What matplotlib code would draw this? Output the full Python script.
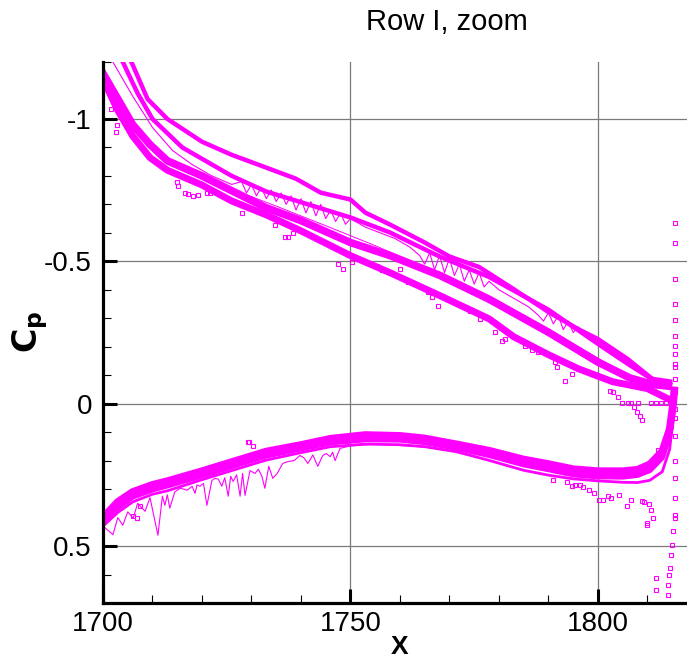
import matplotlib
matplotlib.use("Agg")
import matplotlib.pyplot as plt
from matplotlib.ticker import MultipleLocator, FixedLocator

plt.rcParams['font.family'] = ['Liberation Sans', 'DejaVu Sans']
plt.rcParams['axes.unicode_minus'] = False

MAG = '#ff00ff'

# ---------------- upper surface (suction side) ----------------
upA_x = [1704, 1706, 1709, 1713, 1720, 1726, 1733, 1739, 1744, 1750, 1753, 1758, 1765, 1770,
         1776, 1783, 1790, 1796, 1800, 1806, 1811, 1815]
upA_y = [-1.26, -1.19, -1.07, -1.00, -0.92, -0.874, -0.829, -0.79, -0.741, -0.717, -0.671, -0.629,
         -0.566, -0.517, -0.48, -0.402, -0.322, -0.262, -0.227, -0.157, -0.087, -0.077]

upB_x = [1701, 1704, 1707, 1710, 1716, 1726, 1733, 1739, 1750, 1758, 1768, 1778, 1790, 1800,
         1806, 1811, 1815]
upB_y = [-1.29, -1.20, -1.09, -1.00, -0.90, -0.80, -0.745, -0.713, -0.654, -0.601, -0.517, -0.445,
         -0.33, -0.21, -0.14, -0.085, -0.07]

upC_x = [1702, 1706, 1710, 1714, 1718, 1722, 1726, 1728, 1729, 1730, 1731, 1732, 1733, 1734,
         1735, 1736, 1737, 1738, 1739, 1740, 1741, 1742, 1743, 1744, 1745, 1746, 1747, 1748,
         1749, 1750, 1753, 1756, 1759, 1762, 1764, 1765, 1766, 1767, 1768, 1769, 1770, 1771,
         1772, 1773, 1774, 1775, 1776, 1777, 1778, 1780, 1783, 1786, 1788, 1789, 1790, 1791,
         1792, 1793, 1794, 1795, 1796, 1798, 1802, 1806, 1810, 1815]
upC_y = [-1.20, -1.08, -0.97, -0.89, -0.84, -0.80, -0.77, -0.78, -0.74, -0.77, -0.73, -0.76,
         -0.72, -0.75, -0.71, -0.74, -0.70, -0.73, -0.68, -0.72, -0.67, -0.71, -0.66, -0.70,
         -0.65, -0.68, -0.64, -0.67, -0.63, -0.65, -0.62, -0.60, -0.58, -0.55, -0.52, -0.49,
         -0.53, -0.47, -0.52, -0.46, -0.51, -0.45, -0.49, -0.43, -0.47, -0.42, -0.46, -0.41,
         -0.43, -0.40, -0.37, -0.34, -0.31, -0.29, -0.32, -0.28, -0.31, -0.26, -0.29, -0.25,
         -0.27, -0.23, -0.19, -0.14, -0.10, -0.07]

upD_x = [1697, 1700, 1703, 1706, 1709.5, 1713, 1720, 1726, 1733, 1740, 1750, 1758, 1768, 1778,
         1790, 1800, 1806.5, 1811, 1815]
upD_y = [-1.26, -1.16, -1.07, -0.98, -0.91, -0.853, -0.80, -0.748, -0.688, -0.643, -0.566,
         -0.52, -0.451, -0.367, -0.251, -0.146, -0.09, -0.068, -0.06]

upE_x = [1697, 1700, 1703, 1706, 1709.5, 1713, 1720, 1726, 1733, 1740, 1750, 1758, 1768, 1778,
         1783, 1790, 1796, 1803, 1810, 1815]
upE_y = [-1.24, -1.14, -1.03, -0.94, -0.864, -0.82, -0.768, -0.712, -0.663, -0.607, -0.52,
         -0.46, -0.38, -0.298, -0.235, -0.172, -0.123, -0.077, -0.053, -0.01]

upT_x = [1700, 1705, 1710, 1716, 1725, 1735, 1745, 1755, 1765, 1775, 1785, 1795, 1805, 1815]
upT_y = [-1.12, -0.98, -0.89, -0.83, -0.76, -0.694, -0.625, -0.555, -0.48, -0.4, -0.31, -0.21,
         -0.11, -0.05]

# ---------------- lower surface (pressure side) ----------------
lo_x = [1697, 1700, 1703, 1706, 1710, 1713, 1720, 1726, 1733, 1740, 1746, 1753, 1760, 1765,
        1771.5, 1778, 1785, 1790, 1795, 1800, 1805, 1808, 1810.5, 1813, 1814.5, 1815.2, 1815.5]
lo1_y = [0.45, 0.40, 0.345, 0.31, 0.285, 0.272, 0.237, 0.205, 0.168, 0.145, 0.123, 0.11, 0.113,
         0.122, 0.143, 0.165, 0.196, 0.212, 0.23, 0.237, 0.237, 0.232, 0.213, 0.168, 0.09, 0.0,
         -0.06]
lo2_y = [0.465, 0.415, 0.365, 0.327, 0.302, 0.288, 0.253, 0.22, 0.183, 0.158, 0.137, 0.126, 0.127,
         0.136, 0.156, 0.181, 0.214, 0.231, 0.249, 0.256, 0.257, 0.251, 0.234, 0.189, 0.11, 0.02,
         -0.05]
lo3_y = [0.48, 0.43, 0.382, 0.345, 0.318, 0.306, 0.267, 0.235, 0.198, 0.172, 0.151, 0.142, 0.144,
         0.151, 0.169, 0.199, 0.234, 0.251, 0.264, 0.271, 0.276, 0.277, 0.269, 0.239, 0.16, 0.05,
         -0.04]

spike_x = [1700, 1702, 1703, 1704, 1705, 1706.1, 1707, 1708.5, 1709.5, 1710.5, 1711.1, 1712,
           1712.5, 1713, 1713.5, 1714.5, 1715.6, 1716.3, 1717, 1718, 1718.6, 1719, 1719.6, 1720.3,
           1721, 1722, 1722.6, 1723.3, 1724, 1724.6, 1725.3, 1725.8, 1726.3, 1727, 1727.7, 1728.2,
           1728.7, 1729.7, 1730.7, 1731.4, 1732.1, 1732.7, 1733.5, 1734.3, 1735.2, 1736.3, 1737.4,
           1738.6, 1739.8, 1740.6, 1741.4, 1742.4, 1743.4, 1744.4, 1745.1, 1745.9, 1746.4, 1746.9,
           1747.9, 1750, 1755, 1760, 1765, 1770, 1775]
spike_y = [0.43, 0.46, 0.40, 0.427, 0.38, 0.402, 0.35, 0.378, 0.33, 0.413, 0.462, 0.325,
           0.357, 0.32, 0.367, 0.31, 0.297, 0.30, 0.304, 0.29, 0.315, 0.285, 0.29, 0.28,
           0.357, 0.27, 0.262, 0.265, 0.29, 0.26, 0.325, 0.255, 0.273, 0.25, 0.325, 0.245,
           0.322, 0.235, 0.245, 0.23, 0.255, 0.297, 0.22, 0.262, 0.245, 0.21, 0.203,
           0.2, 0.182, 0.19, 0.21, 0.18, 0.22, 0.182, 0.175, 0.186, 0.17, 0.2,
           0.157, 0.148, 0.142, 0.147, 0.152, 0.165, 0.185]

# ---------------- isolated square markers ----------------
scat_x = [1701.6, 1702.8, 1702.6, 1714.9, 1715.2, 1716.6, 1717.2, 1718.2, 1719.2, 1721, 1721.6,
          1728, 1734.7, 1736.8, 1737.4, 1738.4, 1747.5, 1748.5, 1750.3, 1755.4, 1756.4, 1760,
          1761.6, 1765.7, 1766.5, 1767.7, 1769.5, 1773.7, 1774.1, 1776.2, 1779.2, 1780.6, 1781.2,
          1785.3, 1786.7, 1787.9, 1791.3, 1791.7, 1793.3, 1794.7, 1802.4, 1803, 1804, 1804.8,
          1806, 1806.7, 1808, 1810.7, 1811.7, 1812.7, 1813.7, 1807.3, 1807.9, 1808.5, 1809,
          1790.9, 1793.7, 1794.7, 1795.3, 1796.4, 1797, 1798.2, 1799.2, 1800.2, 1801, 1802,
          1802.6, 1804.2, 1805.9, 1806.7, 1808.9, 1809.3, 1810.3, 1810.7, 1811.1, 1809.9,
          1809.9, 1811.7, 1811.7, 1812.1, 1729.3, 1729.6, 1730.3, 1706.9, 1706, 1707.5, 1702,
          1815.6, 1815.6, 1815.6, 1815.6, 1815.6, 1815.6, 1815.6, 1815.6, 1815.6, 1815.6,
          1815.6, 1815.6, 1815.6, 1815.6, 1815.6, 1815.6, 1815.6, 1815.6, 1815.6, 1815.6,
          1815.2, 1815.0, 1814.8, 1814.6, 1814.4, 1814.2, 1814.1]
scat_y = [-1.035, -0.98, -0.955, -0.78, -0.766, -0.741, -0.738, -0.731, -0.734, -0.741, -0.741,
          -0.668, -0.626, -0.584, -0.587, -0.598, -0.49, -0.472, -0.497, -0.483, -0.469, -0.472,
          -0.427, -0.392, -0.374, -0.343, -0.367, -0.332, -0.325, -0.297, -0.252, -0.22, -0.227,
          -0.203, -0.189, -0.182, -0.147, -0.129, -0.08, -0.105, -0.045, -0.04, -0.024, -0.003,
          -0.003, -0.003, -0.003, -0.003, -0.003, -0.003, -0.003, 0.01, 0.028, 0.042, 0.059,
          0.269, 0.276, 0.29, 0.287, 0.287, 0.294, 0.304, 0.315, 0.339, 0.339, 0.325,
          0.332, 0.322, 0.36, 0.339, 0.343, 0.346, 0.353, 0.374, 0.402, 0.42,
          0.427, 0.612, 0.654, 0.164, 0.133, 0.133, 0.15, 0.402, 0.395, 0.36, 0.364,
          -0.636, -0.566, -0.437, -0.35, -0.294, -0.238, -0.203, -0.175, -0.14, -0.129,
          -0.087, -0.042, 0.017, 0.052, 0.112, 0.203, 0.262, 0.332, 0.392, 0.402,
          0.448, 0.497, 0.531, 0.577, 0.601, 0.636, 0.671]

x_ticks = [1700, 1750, 1800]
y_ticks = [-1, -0.5, 0, 0.5]
y_labels = ['-1', '-0.5', '0', '0.5']

fig = plt.figure(figsize=(6.87, 6.61), dpi=100)
ax = fig.add_axes([103/687, 1 - 603/661, 1 - 103/687, (603 - 62)/661])

# upper surface bands
ax.plot(upA_x, upA_y, color=MAG, lw=3.2, solid_capstyle='butt')
ax.plot(upB_x, upB_y, color=MAG, lw=3.2, solid_capstyle='butt')
ax.plot(upC_x, upC_y, color=MAG, lw=0.8)
ax.plot(upT_x, upT_y, color=MAG, lw=0.7)
ax.plot(upD_x, upD_y, color=MAG, lw=5.5, solid_capstyle='butt')
ax.plot(upE_x, upE_y, color=MAG, lw=5.0, solid_capstyle='butt')

# lower surface bands
ax.plot(lo_x, lo1_y, color=MAG, lw=5.5, solid_capstyle='butt')
ax.plot(lo_x, lo2_y, color=MAG, lw=4.0, solid_capstyle='butt')
ax.plot(lo_x, lo3_y, color=MAG, lw=2.0, solid_capstyle='butt')
ax.plot(spike_x, spike_y, color=MAG, lw=0.8)

# isolated markers
ax.plot(scat_x, scat_y, linestyle='none', marker='s', markersize=3.2,
        markerfacecolor='none', markeredgecolor=MAG, markeredgewidth=0.8)

ax.set_xlim(1700, 1818)
ax.set_ylim(0.7, -1.2)

ax.xaxis.set_major_locator(FixedLocator(x_ticks))
ax.xaxis.set_minor_locator(MultipleLocator(10))
ax.yaxis.set_major_locator(FixedLocator(y_ticks))
ax.yaxis.set_minor_locator(MultipleLocator(0.1))
ax.set_yticklabels(y_labels)
ax.set_xticklabels([str(v) for v in x_ticks])

ax.grid(True, which='major', color='#7a7a7a', lw=0.9)
ax.set_axisbelow(True)

for s in ['top', 'right']:
    ax.spines[s].set_visible(False)
for s in ['left', 'bottom']:
    ax.spines[s].set_linewidth(2.3)

ax.tick_params(which='major', direction='in', length=10, width=2.2, labelsize=20, pad=8)
ax.tick_params(which='minor', direction='in', length=5.8, width=0.8)
ax.tick_params(axis='x', which='major', pad=5.5)

fig.text(447/687, 1 - 22/661, 'Row I, zoom', ha='center', va='center', fontsize=21)
fig.text(30/687, 1 - 332/661, r'$\mathbf{C_p}$', rotation=90, ha='center', va='center',
         fontsize=24, fontweight='bold')
fig.text(400/687, 1 - 659/661, 'X', ha='center', va='bottom', fontsize=19, fontweight='bold')

fig.savefig('out.png', dpi=100)
